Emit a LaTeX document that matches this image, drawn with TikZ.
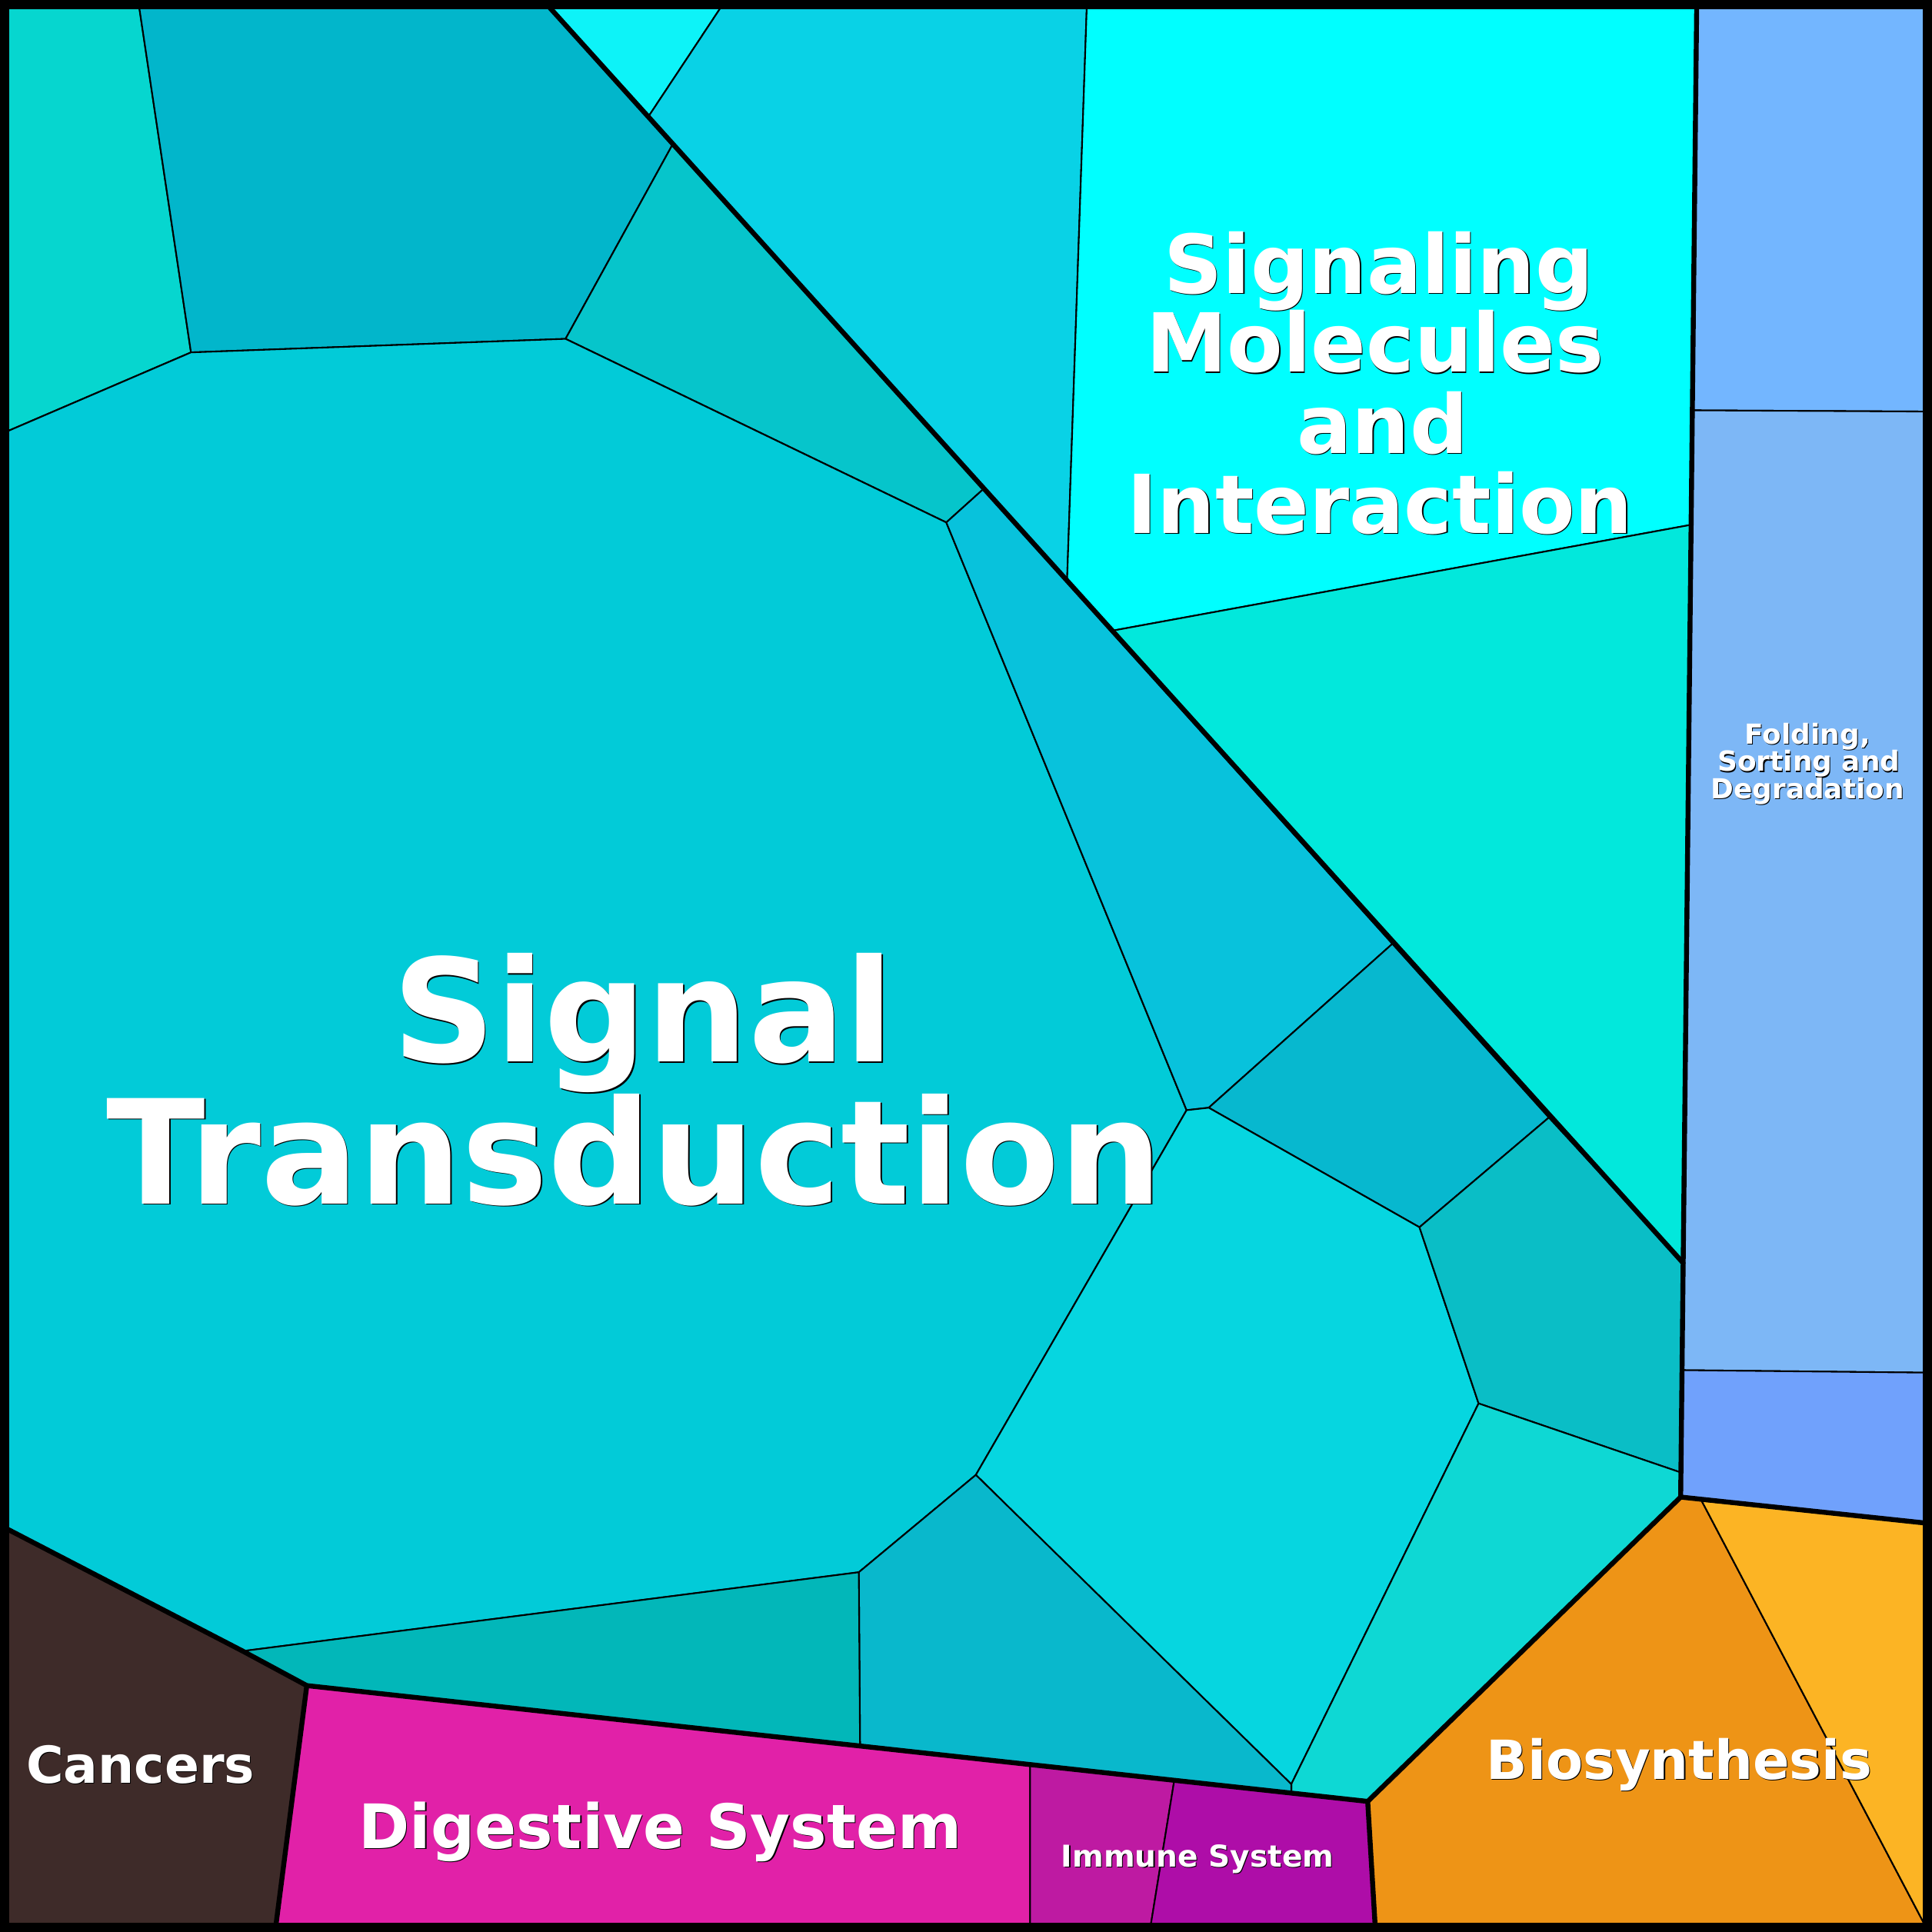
\documentclass[tikz,border=0pt]{standalone}
\usepackage{fontspec}
\setmainfont{DejaVu Sans}
\newcommand\shd[2]{\makebox[0pt][l]{\kern#1\raisebox{-#1}{\color{black}#2}}#2}
\definecolor{cTL}{HTML}{06D6CF}
\definecolor{cTM}{HTML}{02B6CB}
\definecolor{cTR}{HTML}{06C5CB}
\definecolor{cBig}{HTML}{02CBD8}
\definecolor{cTri}{HTML}{0DF3F8}
\definecolor{cUp}{HTML}{09D2E6}
\definecolor{cSMI}{HTML}{00FFFF}
\definecolor{cSMb}{HTML}{02E8DC}
\definecolor{cMid}{HTML}{08C2DC}
\definecolor{cMid2}{HTML}{07B8CF}
\definecolor{cHex}{HTML}{06D6E0}
\definecolor{cRt}{HTML}{0ABEC6}
\definecolor{cRb}{HTML}{0ED8D4}
\definecolor{cBot}{HTML}{09B8CC}
\definecolor{cBl}{HTML}{02B7B9}
\definecolor{cF1}{HTML}{73B6FF}
\definecolor{cF2}{HTML}{7DB7F6}
\definecolor{cF3}{HTML}{70A1FC}
\definecolor{cBio}{HTML}{EE9416}
\definecolor{cBio2}{HTML}{FCB424}
\definecolor{cCan}{HTML}{3E2B29}
\definecolor{cDig}{HTML}{E121A8}
\definecolor{cIm1}{HTML}{BE1AA2}
\definecolor{cIm2}{HTML}{AE0DA8}
\tikzset{
  cell/.style={draw=black, line width=0.65pt, line join=round},
  grp/.style={draw=black, line width=2pt, line cap=round, line join=round},
  lbl/.style={anchor=base, inner sep=0pt, text=white}
}
\begin{document}
\begin{tikzpicture}[x=0.5pt,y=-0.5pt]
\useasboundingbox (0,0) rectangle (1568,1568);
% corners
\coordinate (TL) at (6,6);
\coordinate (TR) at (1562,6);
\coordinate (BR) at (1562,1562);
\coordinate (BL) at (6,1562);
% vertices
\coordinate (A) at (446,6);
\coordinate (B) at (585,6);
\coordinate (C) at (882,6);
\coordinate (D) at (1377,6);
\coordinate (E) at (113,6);
\coordinate (P1) at (526,95);
\coordinate (P2) at (546,117);
\coordinate (P3) at (459,275);
\coordinate (P4) at (155,286);
\coordinate (P5) at (6,350);
\coordinate (P6) at (798,397);
\coordinate (P7) at (768,424);
\coordinate (P8) at (866,472);
\coordinate (P9) at (902,512);
\coordinate (P10) at (1372,426);
\coordinate (P11) at (1374,333);
\coordinate (P11r) at (1562,334);
\coordinate (P12) at (1130,766);
\coordinate (P13) at (981,899);
\coordinate (P14) at (963,901);
\coordinate (P15) at (1257,907);
\coordinate (P16) at (1152,996);
\coordinate (P17) at (1366,1025);
\coordinate (P18) at (1200,1139);
\coordinate (P19) at (1365,1112);
\coordinate (P19r) at (1562,1114);
\coordinate (P20) at (1364,1195);
\coordinate (P21) at (1364,1215);
\coordinate (P22) at (1562,1236);
\coordinate (P23) at (1381,1218);
\coordinate (P25) at (792,1197);
\coordinate (P26) at (697,1276);
\coordinate (P27) at (197,1340);
\coordinate (P28) at (6,1241);
\coordinate (P29) at (249,1368);
\coordinate (P30) at (698,1416);
\coordinate (P31) at (836,1432);
\coordinate (P32) at (953,1445);
\coordinate (P33) at (1048,1448);
\coordinate (P33b) at (1048,1455);
\coordinate (P34) at (1110,1462);
\coordinate (P35) at (1116,1562);
\coordinate (P36) at (934,1562);
\coordinate (P37) at (836,1562);
\coordinate (P38) at (224,1562);
% Signal transduction cells
\filldraw[cell, fill=cTL] (TL) -- (E) -- (P4) -- (P5) -- cycle;
\filldraw[cell, fill=cTM] (E) -- (A) -- (P2) -- (P3) -- (P4) -- cycle;
\filldraw[cell, fill=cTR] (P2) -- (P6) -- (P7) -- (P3) -- cycle;
\filldraw[cell, fill=cBig] (P5) -- (P4) -- (P3) -- (P7) -- (P14) -- (P25) -- (P26) -- (P27) -- (P28) -- cycle;
\filldraw[cell, fill=cMid] (P7) -- (P6) -- (P12) -- (P13) -- (P14) -- cycle;
\filldraw[cell, fill=cMid2] (P13) -- (P12) -- (P15) -- (P16) -- cycle;
\filldraw[cell, fill=cHex] (P14) -- (P13) -- (P16) -- (P18) -- (P33) -- (P25) -- cycle;
\filldraw[cell, fill=cRt] (P16) -- (P15) -- (P17) -- (P20) -- (P18) -- cycle;
\filldraw[cell, fill=cRb] (P18) -- (P20) -- (P21) -- (P34) -- (P33b) -- (P33) -- cycle;
\filldraw[cell, fill=cBot] (P25) -- (P33) -- (P33b) -- (P30) -- (P26) -- cycle;
\filldraw[cell, fill=cBl] (P27) -- (P26) -- (P30) -- (P29) -- cycle;
% Signaling molecules cells
\filldraw[cell, fill=cTri] (A) -- (B) -- (P1) -- cycle;
\filldraw[cell, fill=cUp] (B) -- (C) -- (P8) -- (P1) -- cycle;
\filldraw[cell, fill=cSMI] (C) -- (D) -- (P10) -- (P9) -- (P8) -- cycle;
\filldraw[cell, fill=cSMb] (P9) -- (P10) -- (P17) -- cycle;
% Folding cells
\filldraw[cell, fill=cF1] (D) -- (TR) -- (P11r) -- (P11) -- cycle;
\filldraw[cell, fill=cF2] (P11) -- (P11r) -- (P19r) -- (P19) -- cycle;
\filldraw[cell, fill=cF3] (P19) -- (P19r) -- (P22) -- (P21) -- cycle;
% Biosynthesis
\filldraw[cell, fill=cBio] (P21) -- (P23) -- (BR) -- (P35) -- (P34) -- cycle;
\filldraw[cell, fill=cBio2] (P23) -- (P22) -- (BR) -- cycle;
% Cancers, Digestive, Immune
\filldraw[cell, fill=cCan] (P28) -- (P27) -- (P29) -- (P38) -- (BL) -- cycle;
\filldraw[cell, fill=cDig] (P29) -- (P31) -- (P37) -- (P38) -- cycle;
\filldraw[cell, fill=cIm1] (P31) -- (P32) -- (P36) -- (P37) -- cycle;
\filldraw[cell, fill=cIm2] (P32) -- (P34) -- (P35) -- (P36) -- cycle;
% group boundaries
\draw[grp] (A) -- (P17);
\draw[grp] (D) -- (P21) -- (P22);
\draw[grp] (P21) -- (P34) -- (P35);
\draw[grp] (P28) -- (P27) -- (P29) -- (P34);
\draw[grp] (P29) -- (P38);
% frame
\draw[line width=3.75pt] (3.75,3.75) rectangle (1564.25,1564.25);
% labels
\node[lbl, font=\bfseries\fontsize{58}{58}\selectfont] (st1) at (522,862) {\shd{0.45pt}{Signal}};
\node[lbl, font=\bfseries\fontsize{58.8}{58.8}\selectfont] (st2) at (515,977) {\shd{0.45pt}{Transduction}};
\node[lbl, font=\bfseries\fontsize{33}{33}\selectfont] (sm1) at (1119,238) {\shd{0.4pt}{Signaling}};
\node[lbl, font=\bfseries\fontsize{33}{33}\selectfont] (sm2) at (1116,302) {\shd{0.4pt}{Molecules}};
\node[lbl, font=\bfseries\fontsize{33}{33}\selectfont] (sm3) at (1122,368) {\shd{0.4pt}{and}};
\node[lbl, font=\bfseries\fontsize{33}{33}\selectfont] (sm4) at (1120,433) {\shd{0.4pt}{Interaction}};
\node[lbl, font=\bfseries\fontsize{11.2}{11.2}\selectfont] (fo1) at (1467,604) {\shd{0.35pt}{Folding,}};
\node[lbl, font=\bfseries\fontsize{11.2}{11.2}\selectfont] (fo2) at (1468,626) {\shd{0.35pt}{Sorting and}};
\node[lbl, font=\bfseries\fontsize{11.2}{11.2}\selectfont] (fo3) at (1467,648) {\shd{0.35pt}{Degradation}};
\node[lbl, font=\bfseries\fontsize{20.7}{20.7}\selectfont] (can) at (114,1447) {\shd{0.35pt}{Cancers}};
\node[lbl, font=\bfseries\fontsize{24.9}{24.9}\selectfont] (dig) at (536,1500) {\shd{0.4pt}{Digestive System}};
\node[lbl, font=\bfseries\fontsize{12.2}{12.2}\selectfont] (imm) at (972,1515) {\shd{0.35pt}{Immune System}};
\node[lbl, font=\bfseries\fontsize{21.9}{21.9}\selectfont] (bio) at (1363,1444) {\shd{0.35pt}{Biosynthesis}};
\end{tikzpicture}
\end{document}
